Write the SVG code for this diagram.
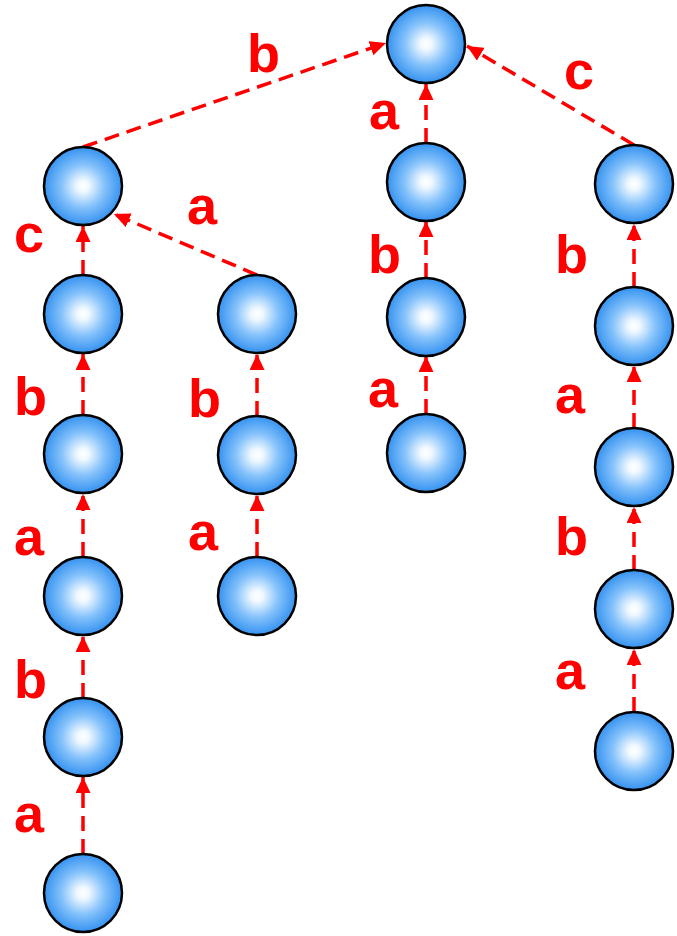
<svg xmlns="http://www.w3.org/2000/svg" width="677" height="936" viewBox="0 0 677 936">
<style>
.n{fill:url(#g);stroke:#000;stroke-width:2.5}
.e{stroke:#ff0000;stroke-width:3.5;stroke-dasharray:15 8;fill:none;marker-end:url(#ah)}
.l{font-family:"Liberation Sans",Arial,sans-serif;font-weight:bold;font-size:54px;fill:#ff0000}
</style>
<defs>
<radialGradient id="g" cx="50%" cy="50%" r="50%">
<stop offset="0" stop-color="#ffffff"/>
<stop offset="0.15" stop-color="#f0f8ff"/>
<stop offset="0.55" stop-color="#85c2fb"/>
<stop offset="1" stop-color="#3592f0"/>
</radialGradient>
<marker id="ah" viewBox="0 0 16 15" refX="16" refY="7.5" markerWidth="16" markerHeight="15" markerUnits="userSpaceOnUse" orient="auto">
<path d="M0,0 L16,7.5 L0,15 z" fill="#ff0000"/>
</marker>
</defs>
<g id="connectors">
<line class="e" x1="83" y1="147" x2="386" y2="43"/>
<line class="e" x1="634" y1="145" x2="467" y2="46"/>
<line class="e" x1="426" y1="143" x2="426" y2="84"/>
<line class="e" x1="426" y1="278" x2="426" y2="221"/>
<line class="e" x1="426" y1="414" x2="426" y2="356"/>
<line class="e" x1="83" y1="275" x2="83" y2="226"/>
<line class="e" x1="83" y1="415" x2="83" y2="354"/>
<line class="e" x1="83" y1="557" x2="83" y2="494"/>
<line class="e" x1="83" y1="698" x2="83" y2="636"/>
<line class="e" x1="83" y1="854" x2="83" y2="777"/>
<line class="e" x1="257" y1="275" x2="114" y2="214"/>
<line class="e" x1="257" y1="416" x2="257" y2="354"/>
<line class="e" x1="257" y1="557" x2="257" y2="495"/>
<line class="e" x1="634" y1="287" x2="634" y2="224"/>
<line class="e" x1="634" y1="428" x2="634" y2="366"/>
<line class="e" x1="634" y1="570" x2="634" y2="507"/>
<line class="e" x1="634" y1="712" x2="634" y2="649"/>
</g>
<g id="labels">
<text class="l" x="247" y="72">b</text>
<text class="l" x="369" y="129">a</text>
<text class="l" x="564" y="89">c</text>
<text class="l" x="187" y="224">a</text>
<text class="l" x="14" y="252">c</text>
<text class="l" x="14" y="415">b</text>
<text class="l" x="14" y="555">a</text>
<text class="l" x="14" y="698">b</text>
<text class="l" x="14" y="832">a</text>
<text class="l" x="188" y="417">b</text>
<text class="l" x="188" y="550">a</text>
<text class="l" x="368" y="273">b</text>
<text class="l" x="368" y="407">a</text>
<text class="l" x="555" y="273">b</text>
<text class="l" x="555" y="413">a</text>
<text class="l" x="555" y="555">b</text>
<text class="l" x="555" y="689">a</text>
</g>
<g id="root"><circle class="n" cx="426" cy="44" r="39"/></g>
<g id="n_l1"><circle class="n" cx="83" cy="186" r="39"/></g>
<g id="n_l2"><circle class="n" cx="83" cy="314" r="39"/></g>
<g id="n_l3"><circle class="n" cx="83" cy="454" r="39"/></g>
<g id="n_l4"><circle class="n" cx="83" cy="596" r="39"/></g>
<g id="n_l5"><circle class="n" cx="83" cy="737" r="39"/></g>
<g id="n_l6"><circle class="n" cx="83" cy="893" r="39"/></g>
<g id="n_m1"><circle class="n" cx="257" cy="314" r="39"/></g>
<g id="n_m2"><circle class="n" cx="257" cy="455" r="39"/></g>
<g id="n_m3"><circle class="n" cx="257" cy="596" r="39"/></g>
<g id="n_c1"><circle class="n" cx="426" cy="182" r="39"/></g>
<g id="n_c2"><circle class="n" cx="426" cy="317" r="39"/></g>
<g id="n_c3"><circle class="n" cx="426" cy="453" r="39"/></g>
<g id="n_r1"><circle class="n" cx="634" cy="184" r="39"/></g>
<g id="n_r2"><circle class="n" cx="634" cy="326" r="39"/></g>
<g id="n_r3"><circle class="n" cx="634" cy="467" r="39"/></g>
<g id="n_r4"><circle class="n" cx="634" cy="609" r="39"/></g>
<g id="n_r5"><circle class="n" cx="634" cy="751" r="39"/></g>
</svg>
